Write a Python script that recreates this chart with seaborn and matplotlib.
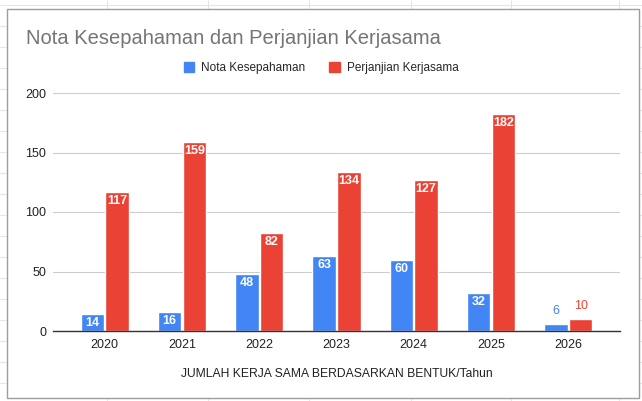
import matplotlib as mpl
import seaborn as sns
import pandas as pd
import numpy as np

plt = mpl.pyplot

# data
YEARS = ['2020', '2021', '2022', '2023', '2024', '2025', '2026']
NOTA = [14, 16, 48, 63, 60, 32, 6]
PERJANJIAN = [117, 159, 82, 134, 127, 182, 10]
SERIES = ['Nota Kesepahaman', 'Perjanjian Kerjasama']
COLORS = ['#4285F4', '#EA4335']

data = pd.DataFrame({
    'Tahun': YEARS * 2,
    'Jumlah': NOTA + PERJANJIAN,
    'Bentuk': [SERIES[0]] * len(YEARS) + [SERIES[1]] * len(YEARS),
})

sns.set_style('white')
mpl.rcParams['font.family'] = ['Liberation Sans', 'DejaVu Sans']

W, H = 642, 401
fig = plt.figure(figsize=(W / 100, H / 100), dpi=100)

# spreadsheet cell lines behind the chart box
for yy in range(5, H, 21):
    fig.add_artist(mpl.lines.Line2D([0, 1], [1 - yy / H] * 2, color='#e6e6e6',
                                    linewidth=0.8, zorder=-3))
for xx in [107, 208, 309, 411, 511, 619]:
    fig.add_artist(mpl.lines.Line2D([xx / W] * 2, [0, 1], color='#e6e6e6',
                                    linewidth=0.8, zorder=-3))
# chart box
fig.add_artist(mpl.patches.Rectangle((7 / W, 1 - 398 / H), 632 / W, 389 / H,
                                     transform=fig.transFigure, facecolor='white',
                                     edgecolor='#9e9e9e', linewidth=1.0, zorder=-2))

ax = fig.add_axes([53 / W, 1 - 331 / H, 567 / W, 238 / H])
ax.patch.set_alpha(0)

sns.barplot(data=data, x='Tahun', y='Jumlah', hue='Bentuk', palette=COLORS,
            width=0.64, gap=0.05, ax=ax, legend=False, saturation=1)

ax.set_ylim(0, 200)
ax.set_xlim(-0.67, 6.67)
ax.set_yticks([0, 50, 100, 150, 200])
ax.yaxis.grid(True, color='#cccccc', linewidth=0.8)
ax.set_axisbelow(True)
for s in ['top', 'right', 'left']:
    ax.spines[s].set_visible(False)
ax.spines['bottom'].set_color('#333333')
ax.spines['bottom'].set_linewidth(1.0)
ax.tick_params(axis='both', length=0, labelsize=9, colors='#222222')
ax.tick_params(axis='y', pad=5)
ax.tick_params(axis='x', pad=6)
ax.set_xlabel('JUMLAH KERJA SAMA BERDASARKAN BENTUK/Tahun', fontsize=8.7,
              color='#222222', labelpad=12)
ax.set_ylabel('')

# value labels
for cont, col in zip(ax.containers, COLORS):
    for bar in cont:
        h = bar.get_height()
        cx = bar.get_x() + bar.get_width() / 2
        if h >= 12:
            ax.text(cx, h - 2.5, f'{int(h)}', ha='center', va='top',
                    color='white', fontsize=9, fontweight='bold')
        else:
            ax.text(cx, h + 6, f'{int(h)}', ha='center', va='bottom',
                    color=col, fontsize=9)

# title and legend
fig.text(26 / W, 1 - 39 / H, 'Nota Kesepahaman dan Perjanjian Kerjasama',
         fontsize=14.5, color='#757575', ha='left', va='center')
handles = [mpl.patches.Patch(color=c, label=l) for c, l in zip(COLORS, SERIES)]
fig.legend(handles=handles, loc='center', bbox_to_anchor=(0.5, 1 - 68 / H), ncol=2,
           frameon=False, fontsize=8.5, handlelength=0.9, handleheight=0.9,
           columnspacing=2.0, handletextpad=0.6)

plt.savefig('out.png', dpi=100)
